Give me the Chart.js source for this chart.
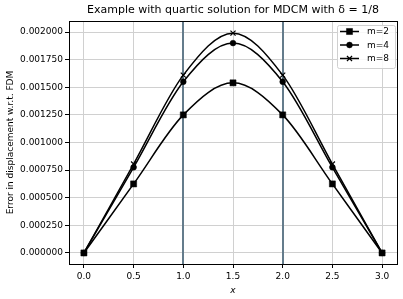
<!DOCTYPE html>
<html>
<head>
<meta charset="utf-8">
<script src="https://cdn.jsdelivr.net/npm/chart.js@4/dist/chart.umd.min.js"></script>
<style>
  html, body { margin: 0; padding: 0; background: #fff; }
  #wrap { width: 403px; height: 299px; }
</style>
</head>
<body>
<div id="wrap"><canvas id="chart-error"></canvas></div>
<script>
const xValues = [0.0, 0.5, 1.0, 1.5, 2.0, 2.5, 3.0];
const errM2 = [0, 0.000625, 0.00125, 0.00154, 0.00125, 0.000625, 0];
const errM4 = [0, 0.000775, 0.00155, 0.00190, 0.00155, 0.000775, 0];
const errM8 = [0, 0.000805, 0.00161, 0.00199, 0.00161, 0.000805, 0];
const seriesLabels = ["m=2", "m=4", "m=8"];
const markers = ["rect", "circle", "crossRot"];
const markerSizes = [4.3, 2.9, 3.6];
const elementLines = [1.0, 2.0];
const titleText = "Example with quartic solution for MDCM with δ = 1/8";

const font = "'DejaVu Sans', sans-serif";

function toPoints(ys) {
    return xValues.map((x, i) => ({ x: x, y: ys[i] }));
}

const allSeries = [errM2, errM4, errM8];
const datasets = allSeries.map((ys, i) => ({
    label: seriesLabels[i],
    data: toPoints(ys),
    borderColor: "#000",
    backgroundColor: "#000",
    borderWidth: 1.5,
    pointStyle: markers[i],
    pointRadius: markerSizes[i],
    pointBorderWidth: markers[i] === "crossRot" ? 1.2 : 0.5,
    cubicInterpolationMode: "monotone",
    fill: false
}));

// element-boundary lines, frame, title and in-plot legend
const extras = {
    id: "extras",
    beforeDatasetsDraw(chart) {
        const ctx = chart.ctx, area = chart.chartArea, xs = chart.scales.x;
        ctx.save();
        ctx.strokeStyle = "#647c8c";
        ctx.lineWidth = 2;
        elementLines.forEach(v => {
            const px = Math.round(xs.getPixelForValue(v));
            ctx.beginPath();
            ctx.moveTo(px, area.top);
            ctx.lineTo(px, area.bottom);
            ctx.stroke();
        });
        ctx.restore();
    },
    afterDraw(chart) {
        const ctx = chart.ctx, area = chart.chartArea;
        ctx.save();
        // frame
        ctx.strokeStyle = "#000";
        ctx.lineWidth = 1;
        ctx.strokeRect(Math.round(area.left) + 0.5, Math.round(area.top) + 0.5,
            Math.round(area.right - area.left), Math.round(area.bottom - area.top));

        // title
        ctx.fillStyle = "#000";
        ctx.font = "11px " + font;
        ctx.textAlign = "center";
        ctx.textBaseline = "middle";
        ctx.fillText(titleText, (area.left + area.right) / 2, 10);

        // legend, upper right inside the axes
        const bw = 58, bh = 43;
        const bx = Math.round(area.right) - 2 - bw, by = Math.round(area.top) + 4;
        ctx.fillStyle = "rgba(255,255,255,0.85)";
        ctx.strokeStyle = "#d0d0d0";
        ctx.lineWidth = 1;
        ctx.beginPath();
        ctx.roundRect(bx + 0.5, by + 0.5, bw, bh, 2);
        ctx.fill();
        ctx.stroke();
        ctx.font = "9px " + font;
        ctx.textAlign = "left";
        chart.data.datasets.forEach((ds, i) => {
            const y = by + 6.5 + i * 13.5;
            ctx.strokeStyle = "#000";
            ctx.fillStyle = "#000";
            ctx.lineWidth = 1.5;
            ctx.beginPath();
            ctx.moveTo(bx + 3, y);
            ctx.lineTo(bx + 22, y);
            ctx.stroke();
            ctx.lineWidth = ds.pointBorderWidth;
            Chart.helpers.drawPoint(ctx, {
                pointStyle: ds.pointStyle,
                radius: ds.pointRadius,
                borderWidth: ds.pointBorderWidth
            }, bx + 12.5, y);
            ctx.fillText(ds.label, bx + 30, y + 0.5);
        });
        ctx.restore();
    }
};

const config = {
    type: "line",
    data: { datasets: datasets },
    options: {
        responsive: true,
        maintainAspectRatio: false,
        animation: false,
        layout: { padding: { top: 21, right: 6, left: 5, bottom: 3 } },
        plugins: {
            legend: { display: false },
            title: { display: false },
            tooltip: { enabled: false }
        },
        scales: {
            x: {
                type: "linear",
                min: -0.15,
                max: 3.15,
                afterFit: s => { s.height = 32; },
                afterBuildTicks: s => { s.ticks = xValues.map(v => ({ value: v })); },
                ticks: {
                    color: "#000",
                    font: { family: font, size: 9 },
                    padding: 3,
                    maxRotation: 0,
                    callback: v => v.toFixed(1)
                },
                grid: { color: "#d0d0d0", lineWidth: 1, tickLength: 4, tickColor: "#000" },
                border: { color: "#000", width: 1 },
                title: {
                    display: true,
                    text: "x",
                    color: "#000",
                    font: { family: font, size: 9, style: "italic" },
                    padding: { top: 0, bottom: 0 }
                }
            },
            y: {
                type: "linear",
                min: -0.0001,
                max: 0.0021,
                afterFit: s => { s.width = 64; },
                afterBuildTicks: s => {
                    const t = [];
                    for (let i = 0; i <= 8; i++) t.push({ value: i * 0.00025 });
                    s.ticks = t;
                },
                ticks: {
                    color: "#000",
                    font: { family: font, size: 9 },
                    padding: 2,
                    callback: v => Number(v).toFixed(6)
                },
                grid: { color: "#d0d0d0", lineWidth: 1, tickLength: 4, tickColor: "#000" },
                border: { color: "#000", width: 1 },
                title: {
                    display: true,
                    text: "Error in displacement w.r.t. FDM",
                    color: "#000",
                    font: { family: font, size: 9 },
                    padding: { top: 0, bottom: 2 }
                }
            }
        }
    },
    plugins: [extras]
};

new Chart(document.getElementById("chart-error"), config);
</script>
</body>
</html>
